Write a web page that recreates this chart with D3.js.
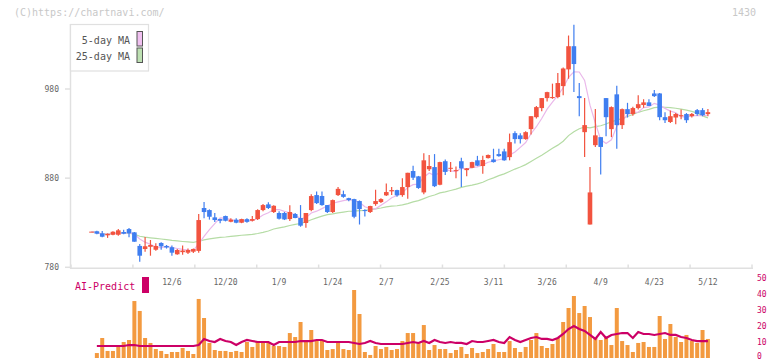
<!DOCTYPE html>
<html><head><meta charset="utf-8">
<script src="https://cdn.jsdelivr.net/npm/d3@7"></script>
<style>body{margin:0;background:#fff}svg{display:block}</style>
</head><body>
<svg id="c" width="772" height="361"></svg>
<script>
const openP=[820,820.4,818.1,815.9,816.5,816.5,819.6,822.9,819.2,804,800.5,803,799.7,807.3,803.9,802.5,794.6,797,796.4,797.5,798.4,846.5,844.2,836,834.1,837.5,831.1,833.4,830,834,832.2,834.1,844.2,850.6,842,840.9,840.9,834.1,839.8,835.3,829.7,844.2,861,860,849.8,842,861,862,857.6,856.5,854.3,844.2,842,850.9,853.2,860.7,865.2,866.6,861,870,888,882,864,890,892.4,872.6,899,890.5,888,899,889,891.6,900,893.6,902.5,901,907,910,903.6,930.5,928,923.8,935,948.4,958.6,969.8,969.8,971,983.3,1002,1028,972,931.6,828,917,926,969.8,935,974,939.5,957.4,951.9,958.6,962,965,975,975,948.4,943,948,949.5,951.9,949.5,956.3,956.3,951.9];
const highP=[820,821,820.7,818,820.5,823,822,824,819.5,806,814,810.6,807,808,805,804.5,800.5,804.5,801,801,839.8,853.2,845,841,834.5,838,835,835,834.5,835,837.5,845,851,853,849.5,843,842,849.5,841,849.8,841,862,865,865,850,856,870,866,858,857,855,845,849,867,857.5,874,870,867,880,886,894,882.5,908,906,907,898.5,901,898,893,903,891.5,898.5,905,905,906.5,913,913,913,930,932.7,930.5,932.7,949.5,961,969.8,977,986,998,1004,1040,1052,986.7,969.8,892.4,957.5,926,970,960.5,983.6,958,964.5,960,973,968.5,968.5,979,975.5,954,956,953,957,953,953,957.5,958.5,957.5];
const lowP=[820,817,813.6,813,816,815.5,817,813.6,808.7,786.3,797.5,793,798.5,799.6,801,793,794,794,795,796,796.4,835,833.5,830.8,829.3,831.5,830.5,829.5,829.5,830,831.5,833,843,845.5,841,833.5,833,832,835,825.5,824.4,843,851,849,841,841,860,858,854,835,828,837,841,849,852,860,861,859,859,857,878,868,862,888,870,872,883.5,887,880,870,882,891,893.5,885,902,897.5,904,899.5,900,919,919,923,929,947,955,966,969,969.5,973,991.5,976.5,949.5,903.6,828,915,884,927,926,913,935,948,950,957,959,961,971,945,942,942,940.5,946,942,948,950,949.5,949.5];
const closeP=[820,817.7,814.3,817.5,819.9,821.5,817.7,818.1,808.7,793,803.6,805,803.9,803.5,802.2,796.4,799.4,798.8,799.4,800.5,833,842,836.7,833,832.2,832.2,833.4,830,834.1,831,834.1,844.2,849.8,846.5,849,834.5,833.7,842,835.3,826.7,840.9,859.9,852,849.8,842,855.4,868,859,855.4,836.7,845.3,843.1,848.7,854.3,856.5,864.4,866.6,860.7,870,886,880.5,869,900,893.6,871,898,887,891.6,889,891,891,898,894,900.4,906,898,904.7,900,920.4,923.8,923.8,931.6,949.5,959.7,969.8,976.5,971,986.7,1003,1028,1008,969.8,939.5,864,928,915,948.4,959.7,939.5,957.4,951.9,958.6,963,965,961,972,948.4,945,949.5,952,950.6,945,952,951.9,950.6,954];
const volume=[0,3.1,12.5,4.4,4.4,6.9,10,11.25,35.6,29.4,12.5,9.4,5.6,4.4,2.5,3.75,3.75,6.25,4.4,2.5,36.9,25,9.4,5,4.4,4.4,3.75,4.4,3.75,10,6.9,10,10,10,7.5,7.5,6.9,15.6,13.1,22.5,10,17.5,11.25,11.25,5,5.6,9.4,5.6,5,42.5,27.5,3.75,1.9,7.5,5.6,6.9,5,5.6,10.6,15.6,15.6,10,20.6,5,8.1,5.6,5.6,3.1,5,6.9,2.5,6.25,3.1,3.75,5.6,8.75,3.75,3.75,10.6,6.25,3.75,6.9,11.25,15.6,7.5,6.25,8.75,12.5,22.5,31.25,38.75,28.1,32.5,25.6,12.5,11.25,13.1,8.1,31.25,10.6,8.1,3.75,9.4,10,6.9,6.9,26.25,11.9,21.25,13.1,10,14.4,10.6,9.4,17.5,11.9];
const aiPredict=[null,7.5,7.5,7.5,7.5,7.5,7.5,8.1,8.1,7.5,7.5,7.5,7.5,7.5,7.5,7.5,7.5,7.5,7.5,7.5,8.1,11.9,10.6,10,11.9,10.6,10,8.1,10,11.25,10.6,10,10,10,8.1,10,10,10,10,10.6,10.6,10.6,11.25,11.25,10,10,10,10,10,9.4,8.75,9.4,10.6,9.4,8.75,8.75,8.75,8.75,8.75,9.4,10,9.4,10.6,9.4,11.25,10,9.4,10,9.4,9.4,8.75,10.6,10,10,10.6,11.25,10,9.4,13.1,11.25,10,11.25,12.5,13.1,11.9,11.9,11.25,12.5,15,18.1,20,18.1,16.9,14.4,11.9,16.25,12.5,14.4,15,15.6,15.6,12.5,16.25,15,15,14.4,15,15.6,14.4,14.4,13.1,12.5,11.25,10.6,10.6,10.6];
const tickLabels=["12/6","12/20","1/9","1/24","2/7","2/25","3/11","3/26","4/9","4/23","5/12"];
const tickIndex=[15,25,35,45,55,65,75,85,95,105,115];
const priceTicks=[780,880,980];
const volTicks=[0,10,20,30,40,50];
const legendLabels=["5-day MA","25-day MA"];

const svg=d3.select("#c");
const n=closeP.length;
const x=d3.scaleLinear().domain([0,n-1]).range([91.5,707.9]);
const y=d3.scaleLinear().domain([780,980]).range([267.3,89]);
const vy=d3.scaleLinear().domain([0,50]).range([358,278]);
const gridX=d3.scaleLinear().domain([0,11]).range([71,752]);
const mono="'DejaVu Sans Mono','Liberation Mono',monospace";
const UP="#f2533f", DOWN="#3f7ef0";

function ma(k){return closeP.map((c,i)=>{const s=closeP.slice(Math.max(0,i-k+1),i+1);return d3.mean(s);});}
const ma5=ma(5), ma25=ma(25);

// header
svg.append("text").attr("x",14).attr("y",16).attr("font-family",mono).attr("font-size",10).attr("fill","#c8c8c8").text("(C)https://chartnavi.com/");
svg.append("text").attr("x",756).attr("y",16).attr("text-anchor","end").attr("font-family",mono).attr("font-size",10).attr("fill","#c8c8c8").text("1430");

// axes
const ax="#e0e0e0";
svg.append("line").attr("x1",70.5).attr("x2",70.5).attr("y1",24).attr("y2",268.5).attr("stroke",ax).attr("stroke-width",1.5);
svg.append("line").attr("x1",70).attr("x2",753).attr("y1",268.3).attr("y2",268.3).attr("stroke",ax).attr("stroke-width",1.5);
svg.selectAll(".xt").data(d3.range(12)).join("line").attr("x1",d=>gridX(d)).attr("x2",d=>gridX(d)).attr("y1",264.5).attr("y2",268.5).attr("stroke",ax).attr("stroke-width",1.5);
svg.selectAll(".yt").data(priceTicks).join("line").attr("x1",65).attr("x2",70).attr("y1",d=>y(d)).attr("y2",d=>y(d)).attr("stroke",ax).attr("stroke-width",1.5);
svg.selectAll(".yl").data(priceTicks).join("text").attr("x",59).attr("y",d=>y(d)+3).attr("text-anchor","end").attr("font-family",mono).attr("font-size",8).attr("fill","#666").text(d=>d);
svg.selectAll(".xl").data(tickIndex).join("text").attr("x",d=>x(d)).attr("y",285).attr("text-anchor","middle").attr("font-family",mono).attr("font-size",8).attr("fill","#666").text((d,i)=>tickLabels[i]);

// volume
svg.selectAll(".vb").data(volume).join("rect").attr("x",(d,i)=>x(i)-2).attr("width",4).attr("y",d=>vy(d)).attr("height",d=>vy(0)-vy(d)).attr("fill","#f39a40");
const aiLine=d3.line().defined(d=>d!=null).x((d,i)=>x(i)).y(d=>vy(d));
svg.append("path").attr("d",aiLine(aiPredict)).attr("fill","none").attr("stroke","#cc0066").attr("stroke-width",2.2);
svg.selectAll(".vl").data(volTicks).join("text").attr("x",757).attr("y",d=>Math.min(vy(d)+3,359)).attr("font-family",mono).attr("font-size",8).attr("fill","#cc0066").text(d=>d);
svg.append("text").attr("x",75).attr("y",289.5).attr("font-family",mono).attr("font-size",10).attr("fill","#cc0066").text("AI-Predict");
svg.append("rect").attr("x",142).attr("y",277).attr("width",7).attr("height",16).attr("fill","#cc0066");

// MAs
const line=d3.line().x((d,i)=>x(i)).y(d=>y(d));
svg.append("path").attr("d",line(ma25)).attr("fill","none").attr("stroke","#b5dca5").attr("stroke-width",1.2);
svg.append("path").attr("d",line(ma5)).attr("fill","none").attr("stroke","#eab8ea").attr("stroke-width",1.2);

// candles
const g=svg.append("g");
closeP.forEach((c,i)=>{
  const o=openP[i], col=c>=o?UP:DOWN;
  g.append("line").attr("x1",x(i)).attr("x2",x(i)).attr("y1",y(highP[i])).attr("y2",y(lowP[i])).attr("stroke",col).attr("stroke-width",1.2);
  const t=y(Math.max(o,c)), b=y(Math.min(o,c));
  g.append("rect").attr("x",x(i)-2.3).attr("width",4.6).attr("y",t).attr("height",Math.max(1,b-t)).attr("fill",col);
});

// legend
svg.append("rect").attr("x",70.5).attr("y",24.5).attr("width",78).attr("height",46.5).attr("fill","#fff").attr("stroke","#e0e0e0").attr("stroke-width",1.2);
const sw=["#f0c0f0","#bde0b2"];
legendLabels.forEach((t,i)=>{
  svg.append("text").attr("x",130).attr("y",44+i*16).attr("text-anchor","end").attr("font-family",mono).attr("font-size",10).attr("fill","#555").text(t);
  svg.append("rect").attr("x",137).attr("y",31.5+i*16.5).attr("width",5.5).attr("height",14.5).attr("fill",sw[i]).attr("stroke","#555").attr("stroke-width",1);
});
</script>
</body></html>
